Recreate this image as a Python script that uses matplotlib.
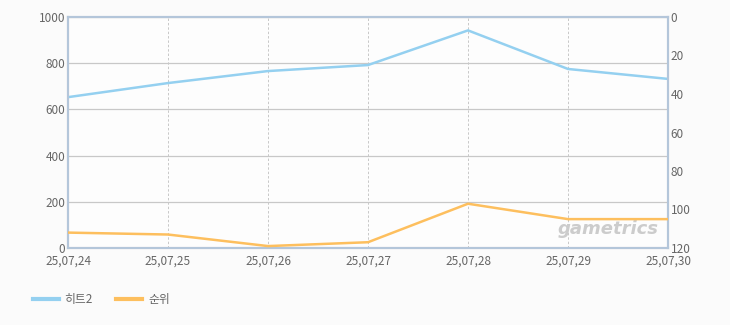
import matplotlib
matplotlib.use("Agg")
import matplotlib.pyplot as plt

plt.rcParams['font.family'] = ['Noto Sans CJK KR', 'DejaVu Sans']

dates = ["25,07,24", "25,07,25", "25,07,26", "25,07,27", "25,07,28", "25,07,29", "25,07,30"]
hits = [653, 714, 766, 792, 942, 775, 732]
rank = [112, 113, 119, 117, 97, 105, 105]

blue = "#94d0f0"
orange = "#fdbf5e"
txt = "#666666"

fig = plt.figure(figsize=(7.3, 3.25), dpi=100, facecolor="#fbfbfb")
ax = fig.add_axes([68/730, 77/325, 600/730, 231/325])
ax.set_facecolor("#fdfdfd")
ax2 = ax.twinx()

x = list(range(len(dates)))
ax.plot(x, hits, color=blue, lw=1.8, label="히트2", zorder=3)
ax2.plot(x, rank, color=orange, lw=1.8, label="순위", zorder=3)

ax.set_xlim(0, len(dates) - 1)
ax.set_ylim(0, 1000)
ax.set_yticks(range(0, 1001, 200))
ax2.set_ylim(120, 0)
ax2.set_yticks(range(0, 121, 20))
ax.set_xticks(x)
ax.set_xticklabels(dates)

ax.grid(axis='y', color="#c8c8c8", lw=0.9)
ax.grid(axis='x', color="#c8c8c8", lw=0.7, ls=(0, (2.5, 2)))
ax.set_axisbelow(True)

for a in (ax, ax2):
    for s in a.spines.values():
        s.set_color("#b4c6da")
        s.set_linewidth(1.5)
    a.tick_params(length=0, labelsize=8.5, colors=txt, pad=2)
ax.spines['left'].set_color("#a4b4c8")
ax.spines['bottom'].set_color("#a4b4c8")
ax.tick_params(axis='x', pad=5)

ax.text(0.985, 0.045, "gametrics", transform=ax.transAxes, ha='right', va='bottom',
        fontsize=13, fontstyle='italic', fontweight='bold', color="#cccccc",
        family='DejaVu Sans', zorder=1)

h1, l1 = ax.get_legend_handles_labels()
h2, l2 = ax2.get_legend_handles_labels()
leg = fig.legend(h1 + h2, l1 + l2, loc='center left', bbox_to_anchor=(22/730, 1 - 300/325),
                 ncol=2, frameon=False, fontsize=8.5, labelcolor=txt, handlelength=2.2,
                 columnspacing=2.0, handletextpad=0.5)
for line in leg.get_lines():
    line.set_linewidth(3)

fig.savefig("out.png", dpi=100, facecolor=fig.get_facecolor())
